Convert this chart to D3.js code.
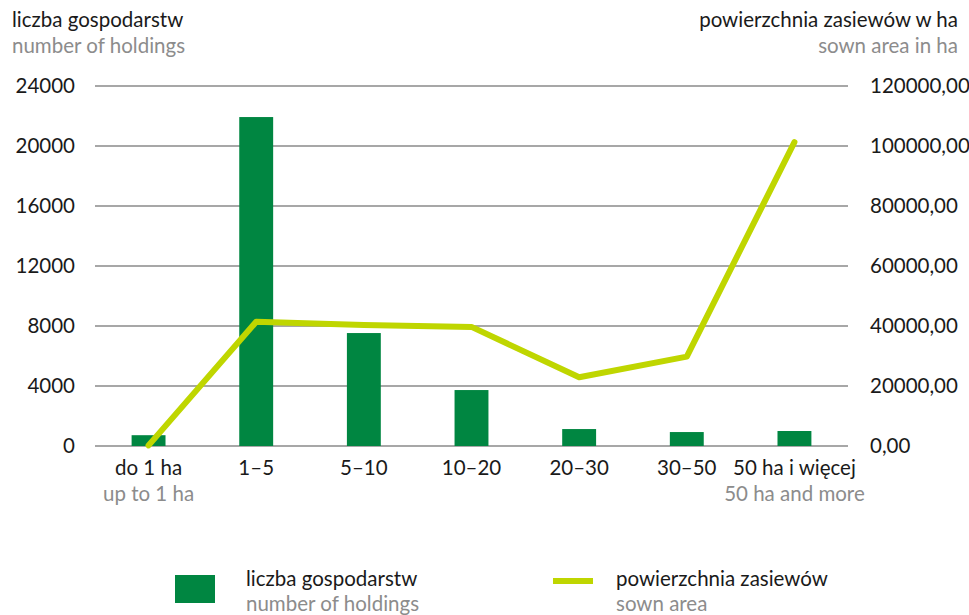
<!DOCTYPE html>
<html>
<head>
<meta charset="utf-8">
<script src="https://cdn.jsdelivr.net/npm/d3@7"></script>
<style>
  body { margin: 0; background: #fff; }
  text { font-family: Lato, "Open Sans", sans-serif; }
</style>
</head>
<body>
<div id="chart"></div>
<script>
// chart data
var categories = ['do 1 ha', '1–5', '5–10', '10–20', '20–30', '30–50', '50 ha i więcej'];
var subLabels = ['up to 1 ha', '', '', '', '', '', '50 ha and more'];
var holdings = [720, 21930, 7530, 3730, 1130, 930, 1000];
var sownArea = [200, 41400, 40300, 39700, 22900, 29800, 101300];
var leftTicks = [0, 4000, 8000, 12000, 16000, 20000, 24000];
var rightTicks = [0, 20000, 40000, 60000, 80000, 100000, 120000];

var W = 969, H = 615;
var plotL = 95, plotR = 848, plotT = 86, plotB = 446;
var fs = 20.5;

var svg = d3.select('#chart').append('svg')
    .attr('width', W)
    .attr('height', H);

var x = d3.scaleBand().domain(categories).range([plotL, plotR]).paddingInner(0.685).paddingOuter(0.34);
var yL = d3.scaleLinear().domain([0, 24000]).range([plotB, plotT]);
var yR = d3.scaleLinear().domain([0, 120000]).range([plotB, plotT]);

// gridlines
svg.append('g').selectAll('line')
    .data(leftTicks)
    .enter().append('line')
    .attr('x1', plotL).attr('x2', plotR)
    .attr('y1', function(d) { return yL(d); })
    .attr('y2', function(d) { return yL(d); })
    .attr('stroke', '#8a8a8a')
    .attr('stroke-width', 1.5);

// left axis labels
svg.append('g').selectAll('text')
    .data(leftTicks)
    .enter().append('text')
    .attr('x', 75)
    .attr('y', function(d) { return yL(d) + 7; })
    .attr('text-anchor', 'end')
    .attr('font-size', fs)
    .attr('fill', '#1a1a1a')
    .text(function(d) { return d; });

// right axis labels
svg.append('g').selectAll('text')
    .data(rightTicks)
    .enter().append('text')
    .attr('x', 870)
    .attr('y', function(d) { return yR(d) + 7; })
    .attr('font-size', fs)
    .attr('fill', '#1a1a1a')
    .text(function(d) { return d3.format('.2f')(d).replace('.', ','); });

// bars
svg.append('g').selectAll('rect')
    .data(holdings)
    .enter().append('rect')
    .attr('x', function(d, i) { return x(categories[i]); })
    .attr('y', function(d) { return yL(d); })
    .attr('width', x.bandwidth())
    .attr('height', function(d) { return plotB - yL(d); })
    .attr('fill', '#008641');

// line
var line = d3.line()
    .x(function(d, i) { return x(categories[i]) + x.bandwidth() / 2; })
    .y(function(d) { return yR(d); });

svg.append('path')
    .datum(sownArea)
    .attr('d', line)
    .attr('fill', 'none')
    .attr('stroke', '#bfd600')
    .attr('stroke-width', 6)
    .attr('stroke-linecap', 'round')
    .attr('stroke-linejoin', 'round');

// x labels
svg.append('g').selectAll('text')
    .data(categories)
    .enter().append('text')
    .attr('x', function(d) { return x(d) + x.bandwidth() / 2; })
    .attr('y', 475)
    .attr('text-anchor', 'middle')
    .attr('font-size', fs)
    .attr('fill', '#1a1a1a')
    .text(function(d) { return d; });

svg.append('g').selectAll('text')
    .data(subLabels)
    .enter().append('text')
    .attr('x', function(d, i) { return x(categories[i]) + x.bandwidth() / 2; })
    .attr('y', 501)
    .attr('text-anchor', 'middle')
    .attr('font-size', fs)
    .attr('fill', '#8c8c8c')
    .text(function(d) { return d; });

// axis titles
svg.append('text').attr('x', 12).attr('y', 27).attr('font-size', fs).attr('fill', '#1a1a1a').text('liczba gospodarstw');
svg.append('text').attr('x', 12).attr('y', 53).attr('font-size', fs).attr('fill', '#8c8c8c').text('number of holdings');
svg.append('text').attr('x', 958).attr('y', 27).attr('font-size', fs).attr('fill', '#1a1a1a').attr('text-anchor', 'end').text('powierzchnia zasiewów w ha');
svg.append('text').attr('x', 958).attr('y', 53).attr('font-size', fs).attr('fill', '#8c8c8c').attr('text-anchor', 'end').text('sown area in ha');

// legend
svg.append('rect').attr('x', 175).attr('y', 575).attr('width', 40).attr('height', 28).attr('fill', '#008641');
svg.append('text').attr('x', 246).attr('y', 586).attr('font-size', fs).attr('fill', '#1a1a1a').text('liczba gospodarstw');
svg.append('text').attr('x', 246).attr('y', 611).attr('font-size', fs).attr('fill', '#8c8c8c').text('number of holdings');

svg.append('line').attr('x1', 553).attr('x2', 593).attr('y1', 581).attr('y2', 581)
    .attr('stroke', '#bfd600').attr('stroke-width', 6);
svg.append('text').attr('x', 616).attr('y', 586).attr('font-size', fs).attr('fill', '#1a1a1a').text('powierzchnia zasiewów');
svg.append('text').attr('x', 616).attr('y', 611).attr('font-size', fs).attr('fill', '#8c8c8c').text('sown area');
</script>
</body>
</html>
